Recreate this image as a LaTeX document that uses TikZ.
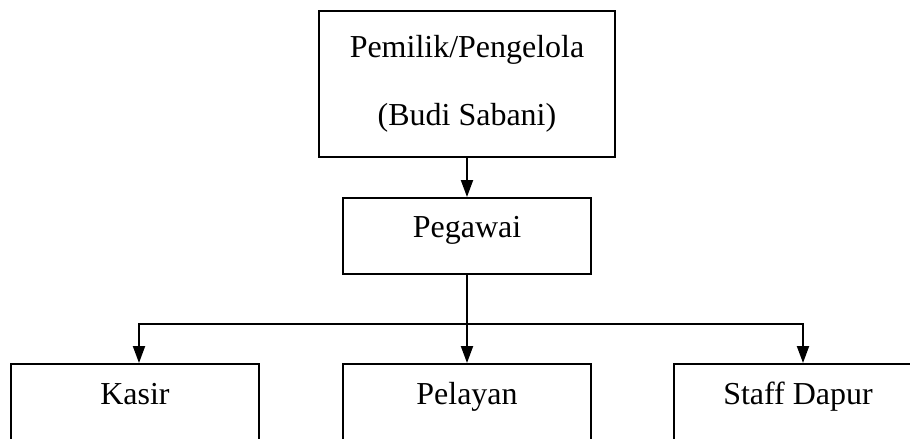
\documentclass[tikz,border=0pt]{standalone}
\usepackage{fontspec}
\setmainfont{Liberation Serif}
\usetikzlibrary{arrows.meta}
\begin{document}
\begin{tikzpicture}[x=0.02cm, y=-0.02cm,
		box/.style={draw, line width=0.04cm, inner sep=0pt, minimum width=4.96cm, text height=0.8cm, text depth=0.72cm, font=\fontsize{18.2pt}{38.7pt}\selectfont},
		link/.style={line width=0.04cm, -{Triangle[length=0.34cm,width=0.24cm]}}]
				\useasboundingbox (0,0) rectangle (910,439);
				\node [draw, line width=0.04cm, inner sep=0pt, minimum width=5.92cm, minimum height=2.92cm, align=center, font=\fontsize{18.2pt}{38.7pt}\selectfont] (owner) at (467,84) {Pemilik/Pengelola\\(Budi Sabani)};
				\node [box] (pegawai) at (467,236) {Pegawai};
				\node [box] (kasir) at (135,402) {Kasir};
				\node [box] (pelayan) at (467,402) {Pelayan};
				\node [box] (dapur) at (798,402) {Staff Dapur};
				\coordinate (split) at (467,324);
				\draw [link] (owner) -- (pegawai);
				\draw [link] (pegawai) -- (pelayan);
				\draw [link] (split) -| ([xshift=0.08cm]kasir.north);
				\draw [link] (split) -| ([xshift=0.1cm]dapur.north);
			\end{tikzpicture}
\end{document}
